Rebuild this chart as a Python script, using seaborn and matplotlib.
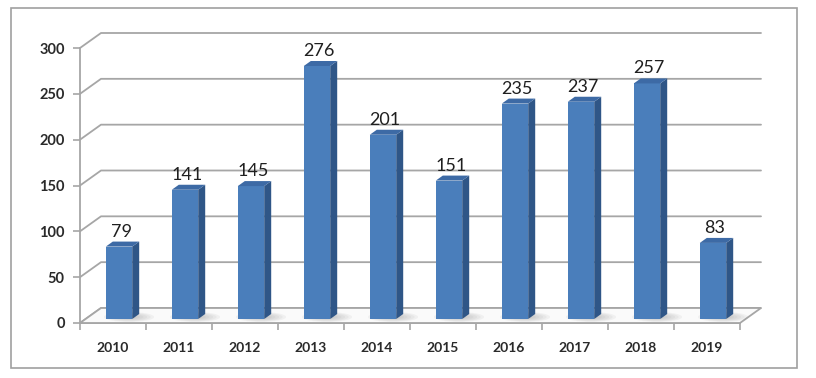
import matplotlib
matplotlib.use("Agg")
import matplotlib.pyplot as plt
import seaborn as sns
import numpy as np
from matplotlib.patches import Polygon, Rectangle, Ellipse
from matplotlib.lines import Line2D

years = ["2010", "2011", "2012", "2013", "2014", "2015", "2016", "2017", "2018", "2019"]
values = [79, 141, 145, 276, 201, 151, 235, 237, 257, 83]
yticks = [0, 50, 100, 150, 200, 250, 300]

sns.set_theme(style="white")
plt.rcParams['font.family'] = ['Lato', 'DejaVu Sans']

DPI = 100
fig = plt.figure(figsize=(8.16, 3.78), dpi=DPI)
W, H = 816, 378
ax = fig.add_axes([80 / W, (H - 323) / H, 660 / W, 275 / H])

front_c = "#4A7EBB"
side_c = "#2F5687"
top_c = "#3D6AA5"
grid_c = "#A6A6A6"

sns.barplot(x=years, y=values, width=0.4, color=front_c, saturation=1,
            ax=ax, zorder=5, linewidth=0)
ax.set_xlim(-0.5, len(years) - 0.5)
ax.set_ylim(0, 300)
ax.set_xlabel("")
ax.set_ylabel("")

# depth offsets in pixels
WALL_DX, WALL_DY = 21, 15
BAR_SX, BAR_SY = 6, 4
BAR_DX, BAR_DY = 7, 5

fig.canvas.draw()
T = ax.transData

def disp(x, y):
    return T.transform((x, y))

# background wall gridlines (back plane) with diagonal connection from front axis
x0, x1 = ax.get_xlim()
for yv in yticks:
    fx, fy = disp(x0, yv)
    rx, ry = disp(x1, yv)
    pts = [(fx, fy), (fx + WALL_DX, fy + WALL_DY), (rx + WALL_DX, ry + WALL_DY)]
    fig.add_artist(Line2D([p[0] for p in pts], [p[1] for p in pts],
                          transform=None, color=grid_c, lw=1.3, zorder=1))

# floor
fx, fy = disp(x0, 0)
rx, ry = disp(x1, 0)
floor = [(fx, fy), (rx, ry), (rx + WALL_DX, ry + WALL_DY), (fx + WALL_DX, fy + WALL_DY)]
fig.add_artist(Polygon(floor, closed=True, transform=None, facecolor="#FAFAFA",
                       edgecolor=grid_c, lw=1.3, zorder=1))

# bars: shift front faces to mid-depth and add side/top faces + shadow
for p in list(ax.patches):
    bx, by = p.get_x(), p.get_y()
    bw, bh = p.get_width(), p.get_height()
    (ax0, ay0) = disp(bx, by)
    (ax1, ay1) = disp(bx + bw, by + bh)
    ax0 += BAR_SX; ax1 += BAR_SX; ay0 += BAR_SY; ay1 += BAR_SY
    p.set_visible(False)
    # soft shadow (several concentric low-alpha ellipses)
    cx = (ax1 + ax0) / 2 + 10
    bwpx = ax1 - ax0
    for k in range(6):
        f = 1 - k * 0.14
        fig.add_artist(Ellipse((cx, ay0 + 2), bwpx * 1.9 * f, 10 * f,
                               transform=None, facecolor="#909090", alpha=0.09,
                               edgecolor="none", zorder=2))
    fig.add_artist(Rectangle((ax0, ay0), bwpx, ay1 - ay0, transform=None,
                             facecolor=front_c, edgecolor="none", zorder=5))
    side = [(ax1, ay0), (ax1 + BAR_DX, ay0 + BAR_DY), (ax1 + BAR_DX, ay1 + BAR_DY), (ax1, ay1)]
    fig.add_artist(Polygon(side, closed=True, transform=None, facecolor=side_c,
                           edgecolor="none", zorder=5))
    top = [(ax0, ay1), (ax1, ay1), (ax1 + BAR_DX, ay1 + BAR_DY), (ax0 + BAR_DX, ay1 + BAR_DY)]
    fig.add_artist(Polygon(top, closed=True, transform=None, facecolor=top_c,
                           edgecolor="none", zorder=5))
    fig.text(((ax0 + ax1) / 2 + 2) / W, (ay1 + BAR_DY + 2) / H, f"{int(round(bh))}",
             ha="center", va="bottom", fontsize=13, color="#1F1F1F", zorder=6)

# axes styling
for s in ["top", "right"]:
    ax.spines[s].set_visible(False)
for s in ["left", "bottom"]:
    ax.spines[s].set_color(grid_c)
    ax.spines[s].set_linewidth(1.3)
    ax.spines[s].set_zorder(3)
ax.patch.set_alpha(0)
ax.set_yticks(yticks)
ax.set_yticklabels([str(v) for v in yticks])
ax.tick_params(axis="y", which="major", length=5, width=1.2, color=grid_c,
               labelsize=10.5, labelcolor="#2A2A2A", pad=6, left=True, direction="out")
ax.set_xticks(range(len(years)))
ax.set_xticklabels(years)
ax.set_xticks(np.arange(-0.5, len(years), 1.0), minor=True)
ax.tick_params(axis="x", which="major", length=0, labelsize=10, labelcolor="#2A2A2A", pad=14)
ax.tick_params(axis="x", which="minor", length=5, width=1.2, color=grid_c, bottom=True,
               direction="out")
for lab in ax.get_xticklabels() + ax.get_yticklabels():
    lab.set_fontweight("bold")

# outer frame
fig.add_artist(Rectangle((11 / W, (H - 368) / H), 786 / W, 360 / H, transform=fig.transFigure,
                         fill=False, edgecolor="#A0A0A0", lw=1.2, zorder=0))

fig.savefig("out.png", dpi=DPI, facecolor="white")
